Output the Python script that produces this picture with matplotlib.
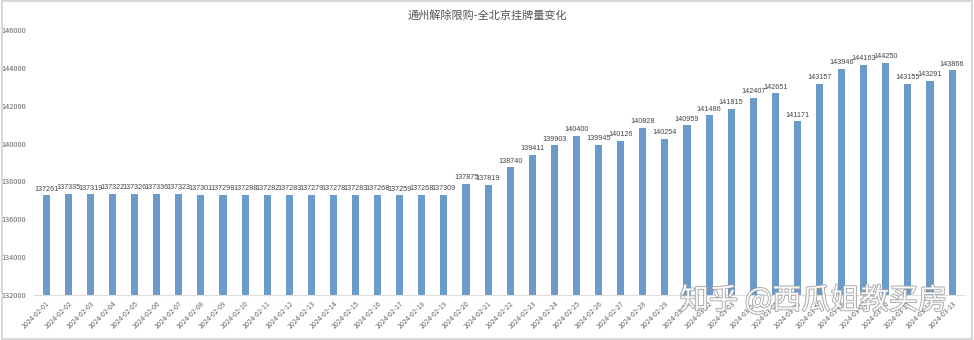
import pandas as pd
import matplotlib.pyplot as plt
import matplotlib.patheffects as pe

plt.rcParams['font.family'] = ['Noto Sans CJK SC', 'DejaVu Sans']

dates = pd.date_range("2024-02-01", "2024-03-13").strftime("%Y-%m-%d").tolist()
listings = [
    137261, 137335, 137319, 137322, 137326, 137336, 137323, 137301, 137298, 137288,
    137282, 137283, 137279, 137278, 137283, 137268, 137259, 137268, 137309, 137875,
    137819, 138740, 139411, 139903, 140400, 139945, 140126, 140828, 140254, 140959,
    141486, 141815, 142407, 142651, 141171, 143157, 143946, 144163, 144250, 143155,
    143291, 143866,
]
title = "通州解除限购-全北京挂牌量变化"

fig = plt.figure(figsize=(9.74, 3.4), dpi=100)
ax = fig.add_axes([0.035, 0.132, 0.955, 0.78])

x = range(len(dates))
ax.bar(x, listings, width=0.32, color="#6b9bcb", zorder=2)
for xi, v in zip(x, listings):
    ax.text(xi, v + 150, str(v), ha="center", va="bottom", fontsize=5.2,
            color="#444444", family="Liberation Sans")

ax.set_ylim(132000, 146000)
ax.set_yticks(range(132000, 146001, 2000))
ax.set_xlim(-0.55, len(dates) - 0.45)
ax.set_xticks(list(x))
ax.set_xticklabels(dates, rotation=45, ha="right", rotation_mode="anchor",
                   fontsize=5, color="#666666")
ax.tick_params(axis="y", labelsize=5.3, colors="#666666", length=0, pad=6)
ax.tick_params(axis="x", length=0, pad=3)
for side in ["top", "right", "left"]:
    ax.spines[side].set_visible(False)
ax.spines["bottom"].set_color("#dddddd")
ax.spines["bottom"].set_linewidth(0.8)

fig.text(0.5, 0.955, title, ha="center", va="center", fontsize=8, color="#555555")

# watermark
fig.text(0.835, 0.115, "知乎 @西瓜姐教买房", ha="center", va="center", fontsize=21,
         color="white", alpha=0.9, zorder=5,
         path_effects=[pe.withStroke(linewidth=1.2, foreground="#9a9a9a")])

border = plt.Rectangle((0.002, 0.003), 0.996, 0.994, transform=fig.transFigure,
                       fill=False, edgecolor="#d8d8d8", linewidth=1.5)
fig.patches.append(border)

fig.savefig("out.png", dpi=100)
